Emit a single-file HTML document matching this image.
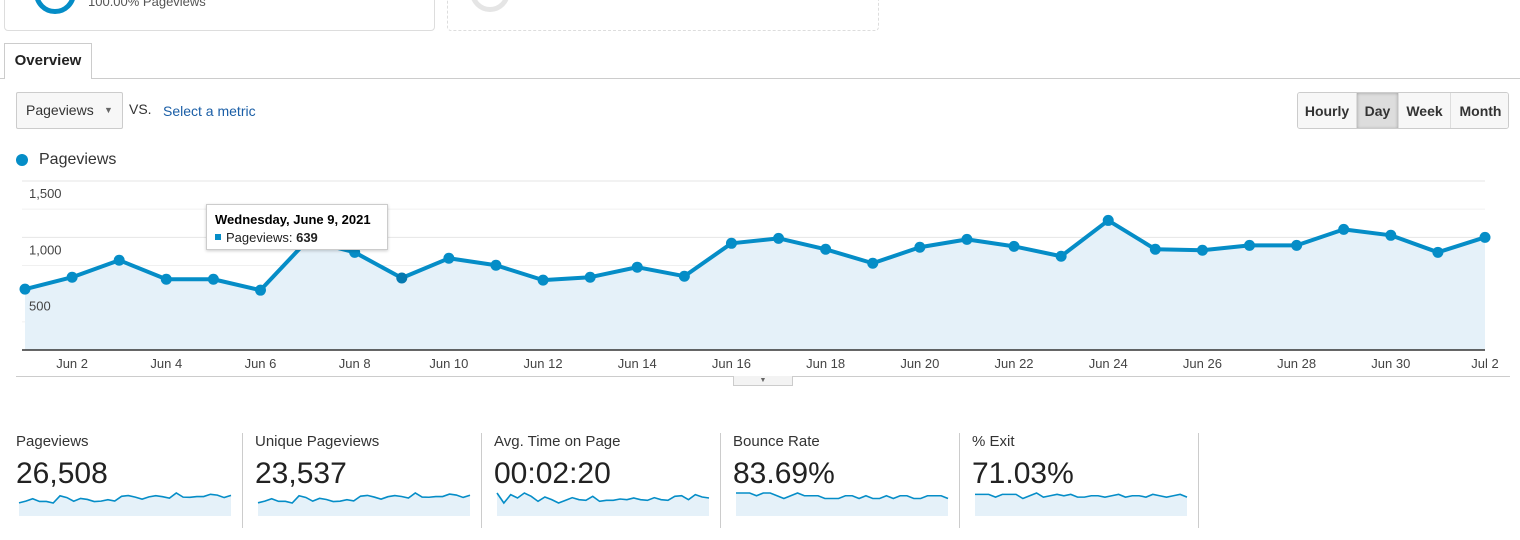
<!DOCTYPE html>
<html><head><meta charset="utf-8">
<style>
body{margin:0;width:1520px;height:540px;overflow:hidden;background:#fff;font-family:"Liberation Sans",Arial,sans-serif;color:#222;position:relative}
.abs{position:absolute}
.btn{position:absolute;top:92px;height:36px;line-height:36px;font-size:14px;font-weight:bold;color:#333;text-align:center;background:#f7f7f7;border-right:1px solid #ddd;box-sizing:border-box}
.metric{position:absolute;top:433px;width:220px;height:95px}
.metric .lbl{position:absolute;left:0;top:0;font-size:15px;color:#333}
.metric .val{position:absolute;left:0;top:24px;font-size:30px;color:#222}
.sep{position:absolute;top:433px;width:1px;height:95px;background:#ccc}
</style></head><body>
<div class="abs" style="left:4px;top:-10px;width:429px;height:39px;border:1px solid #ddd;border-radius:4px"></div>
<div class="abs" style="left:34px;top:-28px;width:32px;height:32px;border:5px solid #058dc7;border-radius:50%"></div>
<div class="abs" style="left:88px;top:-6px;font-size:13px;color:#555">100.00% Pageviews</div>
<div class="abs" style="left:447px;top:-10px;width:430px;height:39px;border:1px dashed #ddd;border-radius:4px"></div>
<div class="abs" style="left:470px;top:-28px;width:30px;height:30px;border:5px solid #e5e5e5;border-radius:50%"></div>
<div class="abs" style="left:0;top:78px;width:1520px;height:1px;background:#ccc"></div>
<div class="abs" style="left:4px;top:43px;width:88px;height:36px;border:1px solid #ccc;border-bottom:none;background:#fff;font-weight:bold;font-size:15px;line-height:34px;text-align:center;box-sizing:border-box">Overview</div>
<div class="abs" style="left:16px;top:92px;width:107px;height:37px;border:1px solid #ccc;border-radius:2px;background:#f7f7f7;box-sizing:border-box;font-size:14px;line-height:35px;padding-left:9px;color:#333">Pageviews<span style="position:absolute;left:87px;top:0;font-size:9px;color:#666">▼</span></div>
<div class="abs" style="left:129px;top:101px;font-size:14px;color:#333">VS.</div>
<div class="abs" style="left:163px;top:103px;font-size:14px;color:#1a5ea6">Select a metric</div>
<div class="abs" style="left:1297px;top:92px;width:212px;height:37px;border:1px solid #ccc;border-radius:3px;box-sizing:border-box;overflow:hidden">
<div class="btn" style="left:0;top:0;width:59px">Hourly</div>
<div class="btn" style="left:59px;top:0;width:42px;background:#ddd;box-shadow:inset 0 0 3px #999">Day</div>
<div class="btn" style="left:101px;top:0;width:52px">Week</div>
<div class="btn" style="left:153px;top:0;width:59px;border-right:none">Month</div>
</div>
<div class="abs" style="left:16px;top:154px;width:12px;height:12px;border-radius:50%;background:#058dc7"></div>
<div class="abs" style="left:39px;top:151px;font-size:16px;color:#333">Pageviews</div>
<svg id="chart" class="abs" style="left:0;top:170px" width="1520" height="220"></svg>
<div class="abs" style="left:16px;top:376px;width:1494px;height:1px;background:#ccc"></div>
<div class="abs" style="left:733px;top:376px;width:60px;height:10px;border:1px solid #ccc;border-top:none;background:#f3f3f3;box-sizing:border-box;font-size:7px;line-height:9px;text-align:center;color:#666">▼</div>
<div class="abs" style="left:206px;top:204px;width:182px;height:46px;background:#fff;border:1px solid #ccc;box-shadow:0 1px 3px rgba(0,0,0,.2);box-sizing:border-box">
<div style="position:absolute;left:8px;top:7px;font-size:13px;font-weight:bold;color:#000">Wednesday, June 9, 2021</div>
<div style="position:absolute;left:8px;top:25px;font-size:13px;color:#222"><span style="display:inline-block;width:6px;height:6px;background:#058dc7;margin-right:5px;vertical-align:2px"></span>Pageviews: <b>639</b></div>
</div>
<div id="metrics"></div>
<script>
const days=["Jun 1","Jun 2","Jun 3","Jun 4","Jun 5","Jun 6","Jun 7","Jun 8","Jun 9","Jun 10","Jun 11","Jun 12","Jun 13","Jun 14","Jun 15","Jun 16","Jun 17","Jun 18","Jun 19","Jun 20","Jun 21","Jun 22","Jun 23","Jun 24","Jun 25","Jun 26","Jun 27","Jun 28","Jun 29","Jun 30","Jul 1","Jul 2"];
const pageviews=[540,646,797,628,628,531,975,867,639,814,752,620,646,735,655,947,991,894,770,912,982,920,832,1150,894,885,929,929,1071,1018,867,1000];
const yTicks=[1500,1000,500];
const yTickLabels=["1,500","1,000","500"];
const xTickLabels=["Jun 2","Jun 4","Jun 6","Jun 8","Jun 10","Jun 12","Jun 14","Jun 16","Jun 18","Jun 20","Jun 22","Jun 24","Jun 26","Jun 28","Jun 30","Jul 2"];
const metricNames=["Pageviews","Unique Pageviews","Avg. Time on Page","Bounce Rate","% Exit"];
const metricValues=["26,508","23,537","00:02:20","83.69%","71.03%"];
const uniqueSpark=[480,570,700,560,560,470,860,770,570,720,660,550,570,650,580,840,880,790,680,810,870,820,740,1010,790,780,820,820,950,900,770,890];
const timeSpark=[150,120,145,135,150,140,125,138,130,120,128,136,130,128,140,125,128,128,132,130,135,130,128,136,130,128,140,142,130,145,138,135];
const bounceSpark=[86,86,86,85,86,86,85,84,85,86,85,85,85,84,84,84,85,85,84,85,84,84,85,84,85,85,84,84,85,85,85,84];
const exitSpark=[76,76,76,74,76,76,76,73,75,77,74,75,76,75,76,74,74,75,75,74,75,76,74,75,75,74,76,75,74,75,76,74];
const NS="http://www.w3.org/2000/svg";
const svg=document.getElementById('chart');
const X0=25,X1=1485,Y0=180,YMAX=1500,YMIN=0,TOP=11;
function xs(i){return X0+(X1-X0)*i/(days.length-1);}
function ys(v){return Y0-(Y0-TOP)*(v-YMIN)/(YMAX-YMIN);}
function mk(tag,attrs,parent){const e=document.createElementNS(NS,tag);for(const k in attrs)e.setAttribute(k,attrs[k]);(parent||svg).appendChild(e);return e;}
for(let v=250;v<=1500;v+=250){
  const g=mk('line',{x1:22,x2:X1,y1:ys(v),y2:ys(v),stroke:v%500===0?'#e6e6e6':'#f0f0f0','stroke-width':1});
  
  
}
let area=`M${xs(0)},${Y0}`;pageviews.forEach((v,i)=>area+=` L${xs(i)},${ys(v)}`);area+=` L${xs(pageviews.length-1)},${Y0} Z`;
const ar=mk('path',{d:area,fill:'#e5f1f9'});


const ax=mk('line',{x1:22,x2:X1,y1:Y0,y2:Y0,stroke:'#333','stroke-width':1.5});


yTicks.forEach((v,i)=>{
  const t=mk('text',{x:29,y:ys(v)+17,'font-size':13,fill:'#444','font-family':'Liberation Sans, sans-serif'});t.textContent=yTickLabels[i];
  
  
});
xTickLabels.forEach(l=>{
  const i=days.indexOf(l);
  const t=mk('text',{x:xs(i),y:Y0+18,'font-size':13,fill:'#444','text-anchor':'middle','font-family':'Liberation Sans, sans-serif'});t.textContent=l;
  
  
});
const ln=mk('polyline',{points:pageviews.map((v,i)=>xs(i)+','+ys(v)).join(' '),fill:'none',stroke:'#058dc7','stroke-width':4,'stroke-linejoin':'round'});


pageviews.forEach((v,i)=>{
  const c=mk('circle',{cx:xs(i),cy:ys(v),r:5.5,fill:i===8?'#0579b0':'#058dc7'});
  
  
});
const sparks=[pageviews,uniqueSpark,timeSpark,bounceSpark,exitSpark];
const mets=document.getElementById('metrics');
metricNames.forEach((n,k)=>{
  const left=16+k*239;
  const d=document.createElement('div');d.className='metric';d.style.left=left+'px';
  
  
  d.innerHTML='<div class="lbl">'+n+'</div><div class="val">'+metricValues[k]+'</div>';
  const data=sparks[k];const mn=Math.min(...data),mx=Math.max(...data);
  const s=document.createElementNS(NS,'svg');s.setAttribute('width',214);s.setAttribute('height',26);s.style.position='absolute';s.style.left='2px';s.style.top='57px';
  const sx=i=>i*212/(data.length-1)+1;
  const range=k>=3?(mx-mn)*4:(mx-mn)*2.2;
  const sy=v=>3+(mx-v)/range*22;
  let p='M'+sx(0)+',26';data.forEach((v,i)=>p+=' L'+sx(i)+','+sy(v));p+=' L'+sx(data.length-1)+',26 Z';
  const f=mk('path',{d:p,fill:'#e5f1f9'},s);
  
  
  const l=mk('polyline',{points:data.map((v,i)=>sx(i)+','+sy(v)).join(' '),fill:'none',stroke:'#058dc7','stroke-width':1.6},s);
  
  
  d.appendChild(s);mets.appendChild(d);
  const sp=document.createElement('div');sp.className='sep';sp.style.left=(left+226)+'px';
  
  
  mets.appendChild(sp);
});
</script>
</body></html>
